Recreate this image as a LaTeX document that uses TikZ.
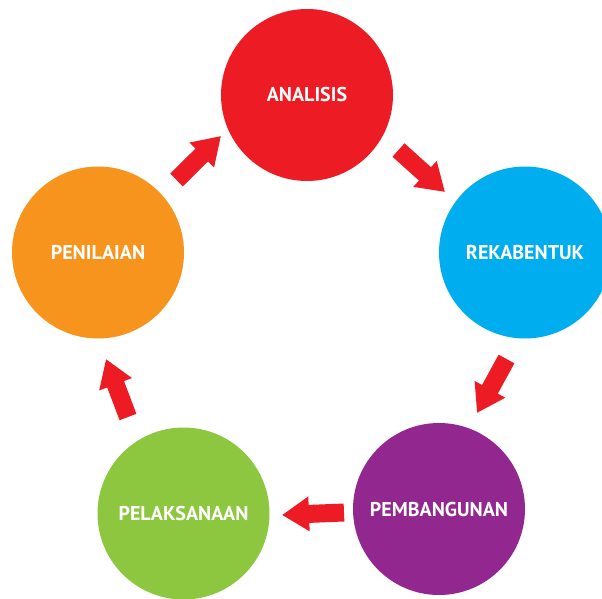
\documentclass[tikz,border=0pt]{standalone}
\usepackage{fontspec}
\setmainfont{PT Sans}
\usetikzlibrary{arrows.meta}

\definecolor{merah}{HTML}{ED1C24}
\definecolor{jingga}{HTML}{F7941D}
\definecolor{biru}{HTML}{00AEEF}
\definecolor{ungu}{HTML}{92278F}
\definecolor{hijau}{HTML}{8DC63F}

\begin{document}
\begin{tikzpicture}[x=1pt,y=-1pt]
  \tikzset{stage/.style = {circle,draw=none,minimum size=172pt,inner sep=0pt,text=white,font=\fontsize{20}{22}\selectfont\bfseries}}
  \tikzset{flow/.style = {draw=merah,line width=18pt,-{Triangle[width=33pt,length=27pt]}}}

\useasboundingbox (0,0) rectangle (602,599);

\node[stage,fill=merah]  (ana)  at (307,95)    {ANALISIS};
\node[stage,fill=biru]   (reka) at (525,252.5) {REKABENTUK};
\node[stage,fill=ungu]   (bina) at (439,509)   {PEMBANGUNAN};
\node[stage,fill=hijau]  (laks) at (183.5,513.5) {PELAKSANAAN};
\node[stage,fill=jingga] (nil)  at (98,252.5)  {PENILAIAN};

% ends of the arrows between the circles
\coordinate (nil-a)  at (176.5,180);
\coordinate (ana-b)  at (221,136);
\coordinate (ana-a)  at (398.5,150);
\coordinate (reka-b) at (445,192);
\coordinate (reka-a) at (506.5,359);
\coordinate (bina-b) at (477,413);
\coordinate (bina-a) at (344,512.5);
\coordinate (laks-b) at (282,515);
\coordinate (laks-a) at (128,417);
\coordinate (nil-b)  at (106,359);

    \path (nil-a) edge[flow] (ana-b);
    \path (ana-a) edge[flow] (reka-b);
    \path (reka-a) edge[flow] (bina-b);
    \path (bina-a) edge[flow] (laks-b);
    \path (laks-a) edge[flow] (nil-b);

\end{tikzpicture}
\end{document}
